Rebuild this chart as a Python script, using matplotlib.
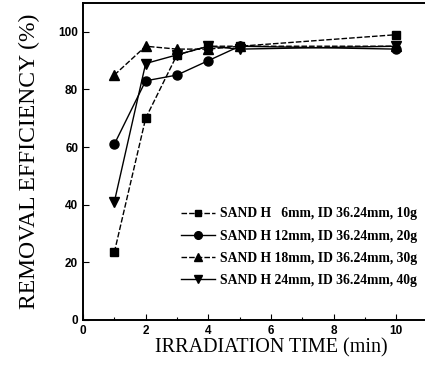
import matplotlib
matplotlib.use("Agg")
import matplotlib.pyplot as plt

time_min = [1, 2, 3, 4, 5, 10]
sand_6mm = [23.5, 70, 92, 95, 95, 99]
sand_12mm = [61, 83, 85, 90, 95, 94]
sand_18mm = [85, 95, 94, 94, 95, 95]
sand_24mm = [41, 89, 92, 95, 94, 95]
labels = ["SAND H   6mm, ID 36.24mm, 10g",
          "SAND H 12mm, ID 36.24mm, 20g",
          "SAND H 18mm, ID 36.24mm, 30g",
          "SAND H 24mm, ID 36.24mm, 40g"]
x_ticks = [0, 2, 4, 6, 8, 10]
y_ticks = [0, 20, 40, 60, 80, 100]

fig = plt.figure(figsize=(4.25, 3.71), dpi=100)
# axes continues slightly past the right edge (cropped original)
ax = fig.add_axes([83/425, 1-320/371, 376/425, 317/371])

series = [(sand_6mm, 's', (0, (4, 1.5)), 5.5),
          (sand_12mm, 'o', '-', 6.5),
          (sand_18mm, '^', (0, (4, 1.5)), 6.5),
          (sand_24mm, 'v', '-', 6.5)]
for (vals, mk, ls, ms), lab in zip(series, labels):
    ax.plot(time_min, vals, color='black', marker=mk, linestyle=ls,
            markersize=ms, linewidth=1.0, label=lab)

ax.set_xlim(0, 12)
ax.set_ylim(0, 110)
ax.set_xticks(x_ticks)
ax.set_yticks(y_ticks)
ax.set_xticks([1, 3, 5, 7, 9, 11], minor=True)
ax.tick_params(direction='in', length=4, width=0.8, labelsize=8.5)
ax.tick_params(which='minor', direction='in', length=2, width=0.8)
for t in ax.get_xticklabels() + ax.get_yticklabels():
    t.set_family('Liberation Sans')
    t.set_fontweight('bold')
ax.spines['right'].set_visible(False)
for s in ['left', 'bottom', 'top']:
    ax.spines[s].set_linewidth(1.4)

ax.set_xlabel("IRRADIATION TIME (min)", family='Liberation Serif', fontsize=14.5, labelpad=1)
ax.set_ylabel("REMOVAL EFFICIENCY (%)", family='Liberation Serif', fontsize=17, labelpad=13)

leg = ax.legend(loc='upper left', bbox_to_anchor=(93/376, 1-(202-3)/317), frameon=False,
                prop={'family': 'Liberation Serif', 'weight': 'bold', 'size': 9.8},
                handlelength=2.5, handletextpad=0.3, labelspacing=0.68, borderaxespad=0,
                markerscale=0.85)

fig.savefig("out.png", dpi=100)
